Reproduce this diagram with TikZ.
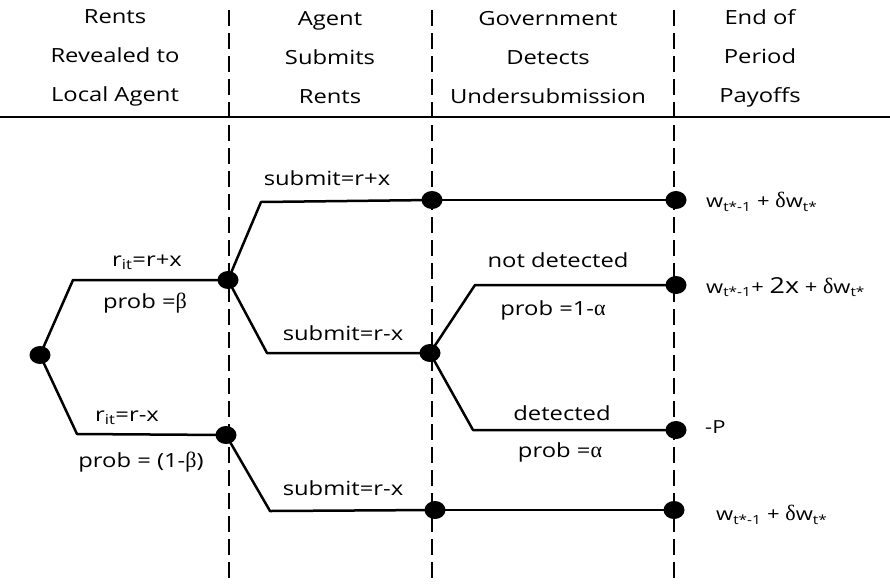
\documentclass[tikz,border=0pt]{standalone}
\usepackage{fontspec}
\setmainfont[FakeStretch=1.22]{Open Sans}
\newfontfamily\grk{Liberation Serif}
\usetikzlibrary{shapes.geometric}
\tikzset{
  stage/.style={line width=2.8pt, dash pattern=on 16pt off 7pt},
  branch/.style={line width=2.5pt, line join=round},
  dot/.style={ellipse, fill=black, inner sep=0pt, minimum width=21pt, minimum height=18pt},
  lbl/.style={font=\fontsize{19.5}{20}\selectfont, inner sep=0pt},
  head/.style={font=\fontsize{19.5}{20}\selectfont, align=center, inner sep=0pt},
  pay/.style={font=\fontsize{18}{20}\selectfont, anchor=west, inner sep=0pt},
}
\newcommand{\gb}{{\grk\fontsize{22}{20}\selectfont β}}
\newcommand{\ga}{{\grk\fontsize{22}{20}\selectfont α}}
\newcommand{\gd}{{\grk\fontsize{22}{20}\selectfont δ}}
\begin{document}
\begin{tikzpicture}[x=1pt, y=-1pt]
\useasboundingbox (0,0) rectangle (890,584);

% column headings
\node[head] (h1) at (115,58) {Rents\\[19pt]Revealed to\\[19pt]Local Agent};
\node[head] (h2) at (330,58) {Agent\\[19pt]Submits\\[19pt]Rents};
\node[head] (h3) at (548,58) {Government\\[19pt]Detects\\[19pt]Undersubmission};
\node[head] (h4) at (760,58) {End of\\[19pt]Period\\[19pt]Payoffs};

% heading rule and stage separators
\draw[line width=2pt] (0,117) -- (890,117);
\draw[stage] (229,10) -- (229,584);
\draw[stage] (432,10) -- (432,584);
\draw[stage] (674,10) -- (674,584);

% decision points
\node[dot] (root) at (40,355) {};
\node[dot] (hi) at (228,280) {};
\node[dot] (lo) at (226,435) {};
\node[dot] (sub1) at (432,200) {};
\node[dot] (sub2) at (430,353) {};
\node[dot] (sub3) at (435,510) {};
\node[dot] (e1) at (676,200) {};
\node[dot] (e2) at (676,285) {};
\node[dot] (e3) at (676,430) {};
\node[dot] (e4) at (674,510) {};

% bends of the branches
\coordinate (c1) at (73,280);
\coordinate (c2) at (77,434);
\coordinate (c3) at (261,202);
\coordinate (c4) at (267,353);
\coordinate (c5) at (475,285);
\coordinate (c6) at (473,430);
\coordinate (c7) at (270,511);

% branches
\draw[branch] (root.center) -- (c1) -- (hi.center);
\draw[branch] (root.center) -- (c2) -- (lo.center);
\draw[branch] (hi.center) -- (c3) -- (sub1.center);
\draw[branch] (hi.center) -- (c4) -- (sub2.center);
\draw[branch] (sub1.center) -- (e1.center);
\draw[branch] (sub2.center) -- (c5) -- (e2.center);
\draw[branch] (sub2.center) -- (c6) -- (e3.center);
\draw[branch] (lo.center) -- (c7) -- (sub3.center);
\draw[branch] (sub3.center) -- (e4.center);

% branch labels
\node[lbl] (l1) at (147,262) {r\textsubscript{it}=r+x};
\node[lbl] (l2) at (145,303) {prob =\gb};
\node[lbl] (l3) at (127,418) {r\textsubscript{it}=r-x};
\node[lbl] (l4) at (141,462) {prob = (1-\gb)};
\node[lbl] (l5) at (327,178) {submit=r+x};
\node[lbl] (l6) at (343,333) {submit=r-x};
\node[lbl] (l7) at (343,488) {submit=r-x};
\node[lbl] (l8) at (558,260) {not detected};
\node[lbl] (l9) at (553,310) {prob =1-\ga};
\node[lbl] (l10) at (562,413) {detected};
\node[lbl] (l11) at (560,452) {prob =\ga};

% payoffs
\node[pay] (p1) at (706,202) {w\textsubscript{t*-1} + \gd w\textsubscript{t*}};
\node[pay] (p2) at (706,287) {w\textsubscript{t*-1}+ {\fontsize{22}{20}\selectfont 2x} + \gd w\textsubscript{t*}};
\node[pay] (p3) at (705,427) {-P};
\node[pay] (p4) at (716,515) {w\textsubscript{t*-1} + \gd w\textsubscript{t*}};
\end{tikzpicture}
\end{document}
